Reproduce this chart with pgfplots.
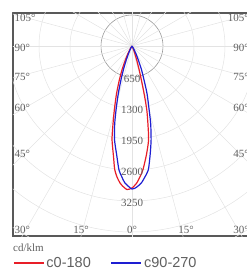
\documentclass[border=0pt]{standalone}
\usepackage{pgfplots}
\pgfplotsset{compat=1.18}
\usepackage{fontspec}
\setmainfont{Liberation Serif}
\newfontfamily\legfont{Liberation Sans}
\definecolor{cred}{RGB}{232,30,40}
\definecolor{cblue}{RGB}{30,30,210}
\definecolor{lab}{RGB}{95,95,95}
\begin{document}
\begin{tikzpicture}
\begin{axis}[name=ax, scale only axis, width=238pt, height=223pt,
  xmin=-2495, xmax=2495, ymin=-3984, ymax=692,
  ticks=none, axis line style={draw=black!65, line width=1.1pt},
  clip=true,
  legend style={at={(0,-0.121)}, anchor=west, draw=none, fill=none,
    inner xsep=0pt, inner ysep=0pt,
    font=\legfont\fontsize{14.5}{15}\selectfont, text=lab,
    /tikz/every even column/.append style={column sep=18pt}},
  legend columns=2,
  legend image code/.code={\draw[#1,line width=1.3pt] (0pt,0pt) -- (30pt,0pt);},
]
\pgfplotsinvokeforeach{1300,1950,2600,3250,3900,4550,5200,5850}{
  \draw[black!11, line width=0.5pt] (axis cs:0,0) circle[radius=#1];}
\draw[black!40, line width=0.6pt] (axis cs:0,0) circle[radius=650];
\pgfplotsinvokeforeach{0,15,...,345}{
  \draw[black!11, line width=0.5pt] (axis cs:0,0) -- ++(#1:400pt);}
\addplot[cred, line width=1.2pt, data cs=polar, smooth, tension=0.4] coordinates {
(-126,0) (-122,63) (-118,189) (-115,346) (-113,524) (-110.5,755) (-108,1049)
(-105.5,1384) (-103.5,1720) (-102,2013) (-99.5,2349) (-98,2610) (-96.5,2768)
(-95,2883) (-94,2936) (-92,3011) (-90,2978) (-88,2873) (-86.5,2747) (-85,2611)
(-82.5,2307) (-80,2001) (-78.5,1678) (-77,1384) (-76,1100) (-75,830)
(-73.5,560) (-72,360) (-70,200) (-67,80) (-63,0)};
\addlegendentry{c0-180}
\addplot[cblue, line width=1.2pt, data cs=polar, smooth, tension=0.4] coordinates {
(-123,0) (-119,63) (-115,168) (-112,336) (-110,524) (-108,749) (-106,1049)
(-104,1384) (-102.5,1678) (-100.5,2007) (-98,2307) (-96,2613) (-94.5,2747)
(-93,2873) (-90,2999) (-88,2957) (-86,2873) (-84.5,2768) (-82.5,2621)
(-80.5,2307) (-78.5,2009) (-76.5,1678) (-75,1390) (-72.5,1049) (-70.5,755)
(-68,524) (-66,336) (-63,189) (-59,63) (-55,0)};
\addlegendentry{c90-270}
\pgfplotsinvokeforeach{650,1300,1950,2600,3250}{
  \node[font=\fontsize{11}{12}\selectfont, text=lab, inner sep=0pt, yshift=-1.5pt] at (axis cs:0,-#1) {#1};}
\end{axis}
\begin{scope}[every node/.style={font=\fontsize{11}{12}\selectfont, text=lab, inner sep=0pt}]
\node[anchor=west] at ([shift={(1.5pt,218pt)}]ax.south west) {105°};
\node[anchor=west] at ([shift={(1.5pt,188pt)}]ax.south west) {90°};
\node[anchor=west] at ([shift={(1.5pt,159pt)}]ax.south west) {75°};
\node[anchor=west] at ([shift={(1.5pt,128pt)}]ax.south west) {60°};
\node[anchor=west] at ([shift={(1.5pt,82pt)}]ax.south west) {45°};
\node[anchor=east] at ([shift={(236pt,218pt)}]ax.south west) {105°};
\node[anchor=east] at ([shift={(236pt,188pt)}]ax.south west) {90°};
\node[anchor=east] at ([shift={(236pt,159pt)}]ax.south west) {75°};
\node[anchor=east] at ([shift={(236pt,128pt)}]ax.south west) {60°};
\node[anchor=east] at ([shift={(236pt,82pt)}]ax.south west) {45°};
\node[anchor=west] at ([shift={(1.5pt,6pt)}]ax.south west) {30°};
\node at ([shift={(68pt,6pt)}]ax.south west) {15°};
\node at ([shift={(119pt,6pt)}]ax.south west) {0°};
\node at ([shift={(173pt,6pt)}]ax.south west) {15°};
\node[anchor=east] at ([shift={(236pt,6pt)}]ax.south west) {30°};
\node[anchor=west] at ([shift={(0pt,-12pt)}]ax.south west) {cd/klm};
\end{scope}
\pgfresetboundingbox
\path ([shift={(-13pt,-34pt)}]ax.south west) rectangle ([shift={(233pt,236pt)}]ax.south west);
\end{tikzpicture}
\end{document}
